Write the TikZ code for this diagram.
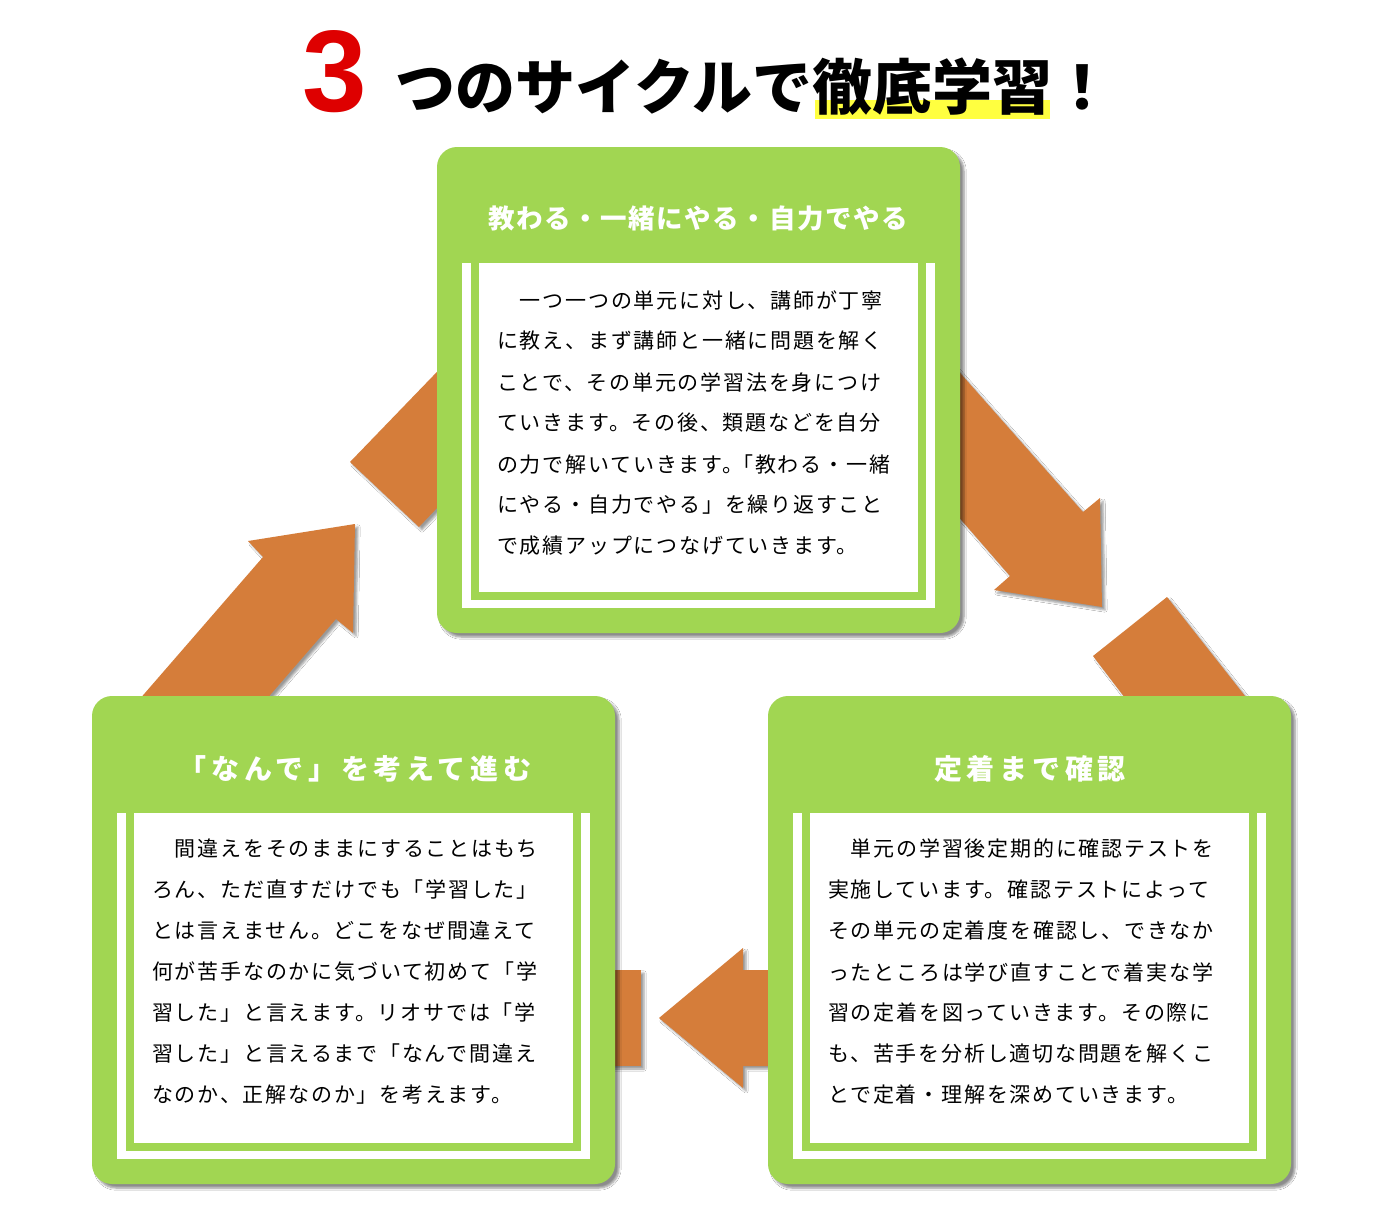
\documentclass[tikz,border=0pt]{standalone}
\usepackage{fontspec}
\setmainfont{Noto Sans CJK JP}
\newfontfamily\jpbody[LetterSpace=8.5]{Noto Sans CJK JP}
\newfontfamily\jptop[LetterSpace=6]{Noto Sans CJK JP}
\newfontfamily\jpsub[LetterSpace=17]{Noto Sans CJK JP}
\newfontfamily\numfont{Liberation Sans}
\usetikzlibrary{shadows.blur}
\definecolor{boxgreen}{RGB}{161,214,82}
\definecolor{arroworange}{RGB}{213,125,58}
\definecolor{numred}{RGB}{222,0,0}
\definecolor{hiyellow}{RGB}{255,255,64}
\tikzset{
  panel/.style={rectangle, rounded corners=20pt, fill=boxgreen, minimum width=523pt,
    blur shadow={shadow xshift=4pt, shadow yshift=-4pt, shadow blur steps=6, shadow opacity=45}},
  arrowshape/.style={fill=arroworange,
    blur shadow={shadow xshift=3pt, shadow yshift=-3pt, shadow blur steps=4, shadow opacity=40}},
  paneltitle/.style={text=white, inner sep=0pt, font=\bfseries},
  bodyline/.style={anchor=west, inner sep=0pt, text=black, font=\jpbody\fontsize{21pt}{24pt}\selectfont},
}
\begin{document}
\begin{tikzpicture}[x=1pt,y=-1pt]
\useasboundingbox (0,0) rectangle (1386,1228);
\fill[white] (0,0) rectangle (1386,1228);

% ---- title ----
\fill[hiyellow] (815,100) rectangle (1050,119);
\node[anchor=base, inner sep=0pt, text=numred, font=\numfont\bfseries\fontsize{116pt}{116pt}\selectfont] (three) at (335,112) {3};
\node[anchor=base west, inner sep=0pt, font=\bfseries\fontsize{60pt}{62pt}\selectfont] (title) at (395,110) {つのサイクルで徹底学習！};

% ---- arrows (behind the panels) ----
\fill[arrowshape] (923,331) -- (1083,512) -- (1100,498) -- (1102,607) -- (994,590) -- (1010,576) -- (923,476) -- cycle;
\fill[arrowshape] (1093,656) -- (1167,597) -- (1260,715) -- (1138,715) -- cycle;
\fill[arrowshape] (790,970) -- (743,970) -- (743,948) -- (659,1018) -- (743,1088) -- (743,1066) -- (790,1066) -- cycle;
\fill[arrowshape] (595,970) -- (641,970) -- (641,1066) -- (595,1066) -- cycle;
\fill[arrowshape] (125,716) -- (263,557) -- (248,541) -- (355,524) -- (353,633) -- (336,619) -- (252,716) -- cycle;
\fill[arrowshape] (460,348) -- (350,462) -- (419,527) -- (460,484) -- cycle;

% ---- panels ----
\node[panel, minimum height=486pt] (top) at (698.5,390) {};
\node[panel, minimum height=488pt] (left) at (353.5,940) {};
\node[panel, minimum height=488pt] (right) at (1029.5,940) {};

% frames
\fill[white] (462,263) rectangle (935,608);
\fill[boxgreen] (471,263) rectangle (926,600);
\fill[white] (479,263) rectangle (918,592);

\fill[white] (117,813) rectangle (590,1159);
\fill[boxgreen] (126,813) rectangle (581,1151);
\fill[white] (134,813) rectangle (573,1143);

\fill[white] (793,813) rectangle (1266,1159);
\fill[boxgreen] (802,813) rectangle (1257,1151);
\fill[white] (810,813) rectangle (1249,1143);

% titles
\node[paneltitle, font=\jptop\bfseries\fontsize{26.5pt}{28pt}\selectfont] (toptitle) at (698,218) {教わる・一緒にやる・自力でやる};
\node[paneltitle, font=\jpsub\bfseries\fontsize{28pt}{30pt}\selectfont] (lefttitle) at (355,769) {「なんで」を考えて進む};
\node[paneltitle, font=\jpsub\bfseries\fontsize{28pt}{30pt}\selectfont] (righttitle) at (1030,769) {定着まで確認};

% body text: top
\node[bodyline] (t1) at (497,300) {　一つ一つの単元に対し、講師が丁寧};
\node[bodyline] (t2) at (497,341) {に教え、まず講師と一緒に問題を解く};
\node[bodyline] (t3) at (497,382) {ことで、その単元の学習法を身につけ};
\node[bodyline] (t4) at (497,423) {ていきます。その後、類題などを自分};
\node[bodyline] (t5) at (497,464) {の力で解いていきます。\hspace{-11pt}「教わる・一緒};
\node[bodyline] (t6) at (497,505) {にやる・自力でやる」を繰り返すこと};
\node[bodyline] (t7) at (497,546) {で成績アップにつなげていきます。};

% body text: left
\node[bodyline] (l1) at (152,849) {　間違えをそのままにすることはもち};
\node[bodyline] (l2) at (152,890) {ろん、ただ直すだけでも「学習した」};
\node[bodyline] (l3) at (152,931) {とは言えません。どこをなぜ間違えて};
\node[bodyline] (l4) at (152,972) {何が苦手なのかに気づいて初めて「学};
\node[bodyline] (l5) at (152,1013) {習した」と言えます。リオサでは「学};
\node[bodyline] (l6) at (152,1054) {習した」と言えるまで「なんで間違え};
\node[bodyline] (l7) at (152,1095) {なのか、正解なのか」を考えます。};

% body text: right
\node[bodyline] (r1) at (828,849) {　単元の学習後定期的に確認テストを};
\node[bodyline] (r2) at (828,890) {実施しています。確認テストによって};
\node[bodyline] (r3) at (828,931) {その単元の定着度を確認し、できなか};
\node[bodyline] (r4) at (828,972) {ったところは学び直すことで着実な学};
\node[bodyline] (r5) at (828,1013) {習の定着を図っていきます。その際に};
\node[bodyline] (r6) at (828,1054) {も、苦手を分析し適切な問題を解くこ};
\node[bodyline] (r7) at (828,1095) {とで定着・理解を深めていきます。};
\end{tikzpicture}
\end{document}
